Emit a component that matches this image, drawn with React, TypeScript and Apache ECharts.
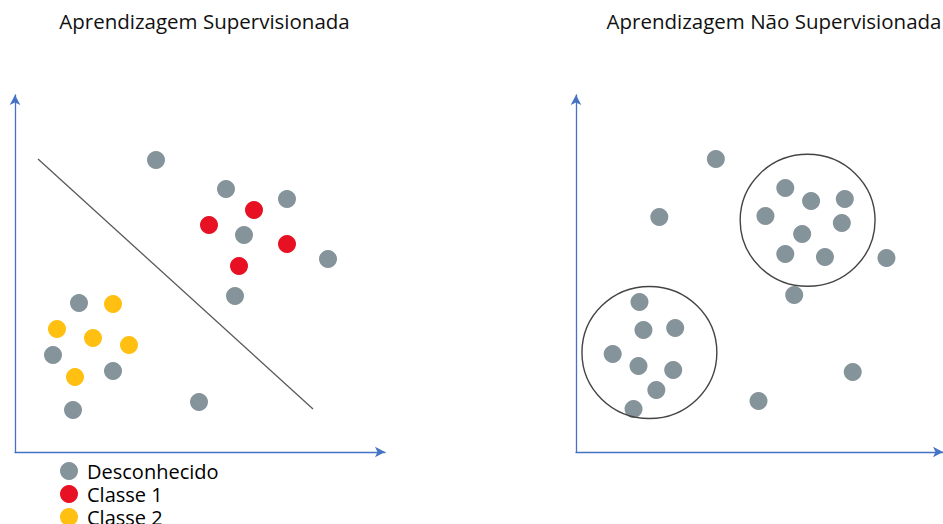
import React, { useEffect, useRef } from "react";
import * as echarts from "echarts";

// Left panel (supervised) points: [x, y]
const supUnknown: number[][] = [
  [141, 292], [211, 263], [272, 253], [229, 217], [313, 193], [220, 156],
  [64, 149], [38, 97], [98, 81], [58, 42], [184, 50],
];
const supClass1: number[][] = [[239, 242], [194, 227], [272, 208], [224, 186]];
const supClass2: number[][] = [[98, 148], [42, 123], [78, 114], [114, 107], [60, 75]];
const separator: number[][] = [[23, 293], [298, 43]];

// Right panel (unsupervised) points
const unsupUnknown: number[][] = [
  [141, 293], [84, 235], [211, 264], [237, 251], [271, 253], [191, 236],
  [268, 229], [228, 218], [211, 198], [251, 195], [313, 194], [220, 157],
  [64, 150], [68, 122], [100, 124], [37, 98], [63, 86], [98, 82], [81, 62],
  [58, 43], [184, 51], [279, 80],
];
// Cluster circles: [cx, cy, rx, ry]
const clusters: number[][] = [[233.5, 231.7, 68, 66], [74, 99.5, 68, 66]];

const titles = ["Aprendizagem Supervisionada", "Aprendizagem Não Supervisionada"];
const legendNames = ["Desconhecido", "Classe 1", "Classe 2"];

const GRAY = "#85949A";
const RED = "#E81123";
const YELLOW = "#FFC012";
const BLUE = "#4472C4";
const FONT = "Open Sans";

export default function App() {
  const ref = useRef<HTMLDivElement>(null);
  useEffect(() => {
    if (!ref.current) return;
    const chart = echarts.init(ref.current, undefined, { renderer: "svg" });
    const axisCommon = {
      type: "value" as const,
      axisLine: {
        show: true,
        onZero: false,
        symbol: ["none", "arrow"],
        symbolSize: [8, 10],
        lineStyle: { color: BLUE, width: 1.3 },
      },
      axisTick: { show: false },
      axisLabel: { show: false },
      splitLine: { show: false },
    };
    const dot = { symbol: "circle", symbolSize: 18 };
    chart.setOption({
      animation: false,
      backgroundColor: "#fff",
      grid: [
        { left: 15, top: 95, width: 370, height: 357 },
        { left: 576, top: 95, width: 370, height: 357 },
      ],
      xAxis: [
        { ...axisCommon, gridIndex: 0, min: 0, max: 370 },
        { ...axisCommon, gridIndex: 1, min: 0, max: 370 },
      ],
      yAxis: [
        { ...axisCommon, gridIndex: 0, min: 0, max: 357 },
        { ...axisCommon, gridIndex: 1, min: 0, max: 357 },
      ],
      legend: legendNames.map((n, i) => ({
        data: [{ name: n, icon: "circle" }],
        orient: "vertical",
        left: 60,
        top: 461 + i * 23,
        padding: 0,
        itemWidth: 18,
        itemHeight: 18,
        textStyle: { fontFamily: FONT, fontSize: 20, color: "#000", lineHeight: 18, padding: [0, 0, 0, 4] },
      })),
      graphic: titles.map((t, i) => ({
        type: "text",
        x: i === 0 ? 204.5 : 774,
        y: 10,
        style: {
          text: t,
          textAlign: "center",
          textVerticalAlign: "top",
          font: `20.5px "${FONT}"`,
          fill: "#111",
        },
      })),
      series: [
        {
          type: "line",
          xAxisIndex: 0,
          yAxisIndex: 0,
          data: separator,
          symbol: "none",
          lineStyle: { color: "#595959", width: 1.3 },
          silent: true,
        },
        { name: "Desconhecido", type: "scatter", xAxisIndex: 0, yAxisIndex: 0, data: supUnknown, ...dot, itemStyle: { color: GRAY, opacity: 1 } },
        { name: "Classe 1", type: "scatter", xAxisIndex: 0, yAxisIndex: 0, data: supClass1, ...dot, itemStyle: { color: RED, opacity: 1 } },
        { name: "Classe 2", type: "scatter", xAxisIndex: 0, yAxisIndex: 0, data: supClass2, ...dot, itemStyle: { color: YELLOW, opacity: 1 } },
        { name: "Desconhecido", type: "scatter", xAxisIndex: 1, yAxisIndex: 1, data: unsupUnknown, ...dot, itemStyle: { color: GRAY, opacity: 1 } },
        {
          type: "custom",
          xAxisIndex: 1,
          yAxisIndex: 1,
          data: clusters,
          silent: true,
          z: 3,
          renderItem: (params: any, api: any) => {
            const c = api.coord([api.value(0), api.value(1)]);
            const s = api.size([api.value(2), api.value(3)]);
            return {
              type: "ellipse",
              shape: { cx: c[0], cy: c[1], rx: s[0], ry: s[1] },
              style: { fill: "none", stroke: "#444", lineWidth: 1.4 },
            };
          },
        },
      ],
    });
    return () => chart.dispose();
  }, []);
  return (
    <div
      ref={ref}
      style={{ position: "fixed", left: 0, top: 0, width: 943, height: 524 }}
    />
  );
}
